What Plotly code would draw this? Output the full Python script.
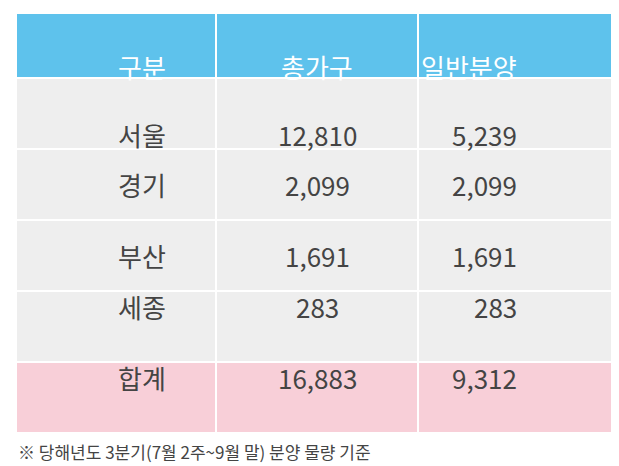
import plotly.graph_objects as go

headers = ["구분", "총가구", "일반분양"]
regions = ["서울", "경기", "부산", "세종", "합계"]
total_households = ["12,810", "2,099", "1,691", "283", "16,883"]
general_sale = ["5,239", "2,099", "1,691", "283", "9,312"]
note = "※ 당해년도 3분기(7월 2주~9월 말) 분양 물량 기준"

W, H = 619, 466
xe = [8, 208, 410, 612]
ye = [5, 70, 141, 212, 283, 354, 425]
font = "Noto Sans CJK KR"

fig = go.Figure()
columns = [regions, total_households, general_sale]
rows = [headers] + [[c[i] for c in columns] for i in range(len(regions))]
for r, row in enumerate(rows):
    if r == 0:
        fill, color = "#5ec2ec", "white"
    elif r == len(rows) - 1:
        fill, color = "#f8cfd8", "#444444"
    else:
        fill, color = "#eeeeee", "#444444"
    for c, txt in enumerate(row):
        x0, x1 = xe[c] / W, xe[c + 1] / W
        y0, y1 = 1 - ye[r + 1] / H, 1 - ye[r] / H
        fig.add_shape(type="rect", xref="paper", yref="paper", x0=x0, x1=x1, y0=y0, y1=y1,
                      fillcolor=fill, line=dict(color="white", width=2), layer="below")
        fig.add_annotation(text=txt, x=(x0 + x1) / 2, y=(y0 + y1) / 2, xref="paper", yref="paper",
                           showarrow=False, font=dict(size=26, color=color, family=font))
fig.add_annotation(text=note, x=8 / W, y=1 - 443 / H, xref="paper", yref="paper",
                   xanchor="left", yanchor="middle", showarrow=False,
                   font=dict(size=17, color="#444444", family=font))
fig.update_layout(width=W, height=H, margin=dict(l=0, r=0, t=0, b=0),
                  paper_bgcolor="white", plot_bgcolor="white",
                  xaxis=dict(visible=False), yaxis=dict(visible=False))
fig.write_html("out.html")
